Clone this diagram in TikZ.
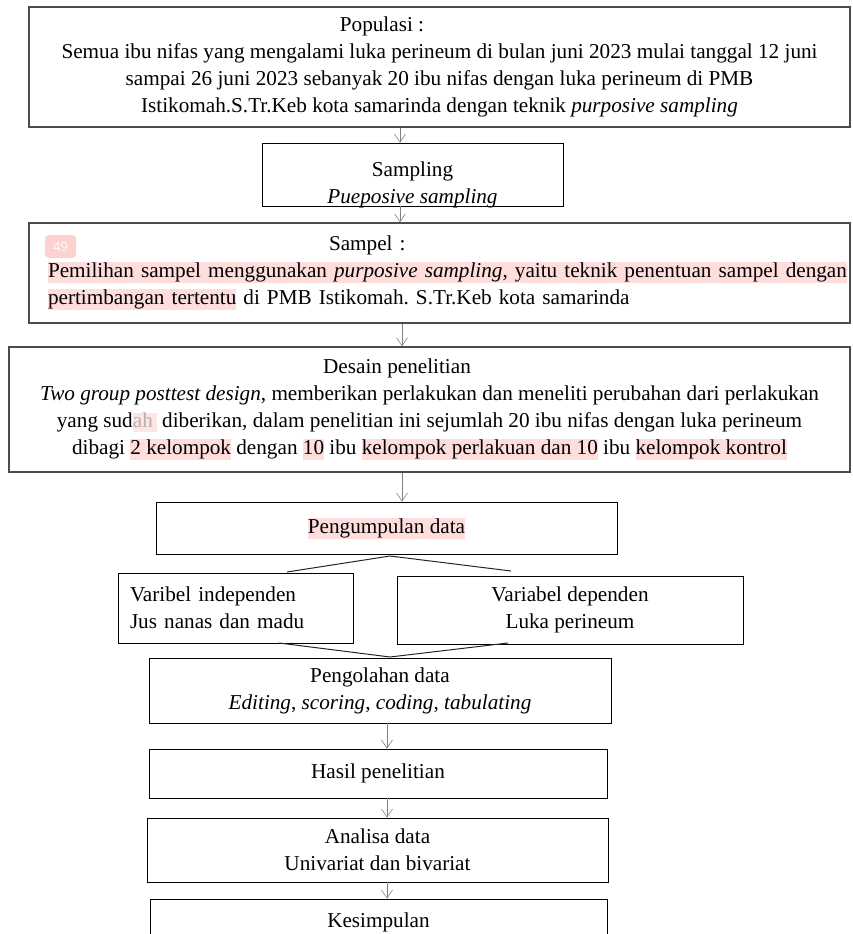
\documentclass[tikz,border=0pt]{standalone}
\usepackage{fontspec}
\setmainfont{Liberation Serif}
\newfontfamily\tagfont{Open Sans}
\usepackage{xcolor}
\usepackage{tikz}
\usetikzlibrary{arrows.meta,positioning,calc}

\definecolor{hlpink}{RGB}{255,221,221}
\definecolor{tagpink}{RGB}{255,208,208}
\newcommand{\bodyfont}{\fontsize{21.2}{27}\selectfont}
\newcommand{\hl}[1]{{\setlength{\fboxsep}{0pt}\colorbox{hlpink}{\vrule height 16pt depth 5pt width 0pt #1}}}
\newcommand{\faded}[1]{{\setlength{\fboxsep}{0pt}\colorbox{hlpink!80}{\vrule height 15pt depth 4pt width 0pt\textcolor{black!30}{#1}\kern4pt}}}
\frenchspacing

\begin{document}
\begin{tikzpicture}[
    x=1pt,
    y=1pt,
    box/.style={draw, line width=0.9pt, inner xsep=6pt, inner ysep=0pt, align=center, font=\bodyfont},
    bigbox/.style={box, draw=black!70, line width=1.5pt},
    tag/.style={fill=tagpink, rounded corners=4pt, text=white, font=\tagfont\fontsize{13}{13}\selectfont, minimum width=31pt, minimum height=23pt},
    arr/.style={draw=gray, line width=0.6pt, -{Straight Barb[length=8pt,width=11pt]}},
    link/.style={draw=black!85, line width=1pt}
]
\useasboundingbox (0,0) rectangle (853,-934);
\clip (0,0) rectangle (853,-934);

% Boxes
\node[bigbox, minimum width=821pt, minimum height=120pt] (pop) at (439.5,-67) {Populasi :\hspace*{115pt}\\
  Semua ibu nifas yang mengalami luka perineum di bulan juni 2023 mulai tanggal 12 juni\\
  sampai 26 juni 2023 sebanyak 20 ibu nifas dengan luka perineum di PMB\\
  Istikomah.S.Tr.Keb kota samarinda dengan teknik \textit{purposive sampling}};

\node[box, minimum width=301pt, minimum height=63pt, text height=58pt, text depth=0pt] (smp) at (412.5,-174.5) {Sampling\\ \textit{Pueposive sampling}};

\node[bigbox, align=left, inner xsep=19pt, text width=783pt, minimum width=821pt, minimum height=100pt] (spl) at (439.5,-273) {\hspace*{281pt}Sampel :\\
  \hl{Pemilihan sampel menggunakan \textit{purposive sampling}, yaitu teknik penentuan sampel dengan}\\
  \hl{pertimbangan tertentu} di PMB Istikomah. S.Tr.Keb kota samarinda};
\node[tag] (n49) at (60.5,-246.5) {49};

\node[bigbox, minimum width=841pt, minimum height=125pt] (dsn) at (429.5,-409.5) {Desain penelitian\hspace*{65pt}\\
  \textit{Two group posttest design}, memberikan perlakukan dan meneliti perubahan dari perlakukan\\
  yang sud\faded{ah} diberikan, dalam penelitian ini sejumlah 20 ibu nifas dengan luka perineum\\
  dibagi \hl{2 kelompok} dengan \hl{10} ibu \hl{kelompok perlakuan dan 10} ibu \hl{kelompok kontrol}};

\node[box, minimum width=461pt, minimum height=52pt] (kum) at (386.5,-528) {\hl{Pengumpulan data}};

\node[box, align=left, inner xsep=12pt, text width=211pt, minimum width=235pt, minimum height=70pt] (ind) at (235.5,-608) {Varibel independen\\ Jus nanas dan madu};
\node[box, minimum width=346pt, minimum height=68pt] (dep) at (570,-610) {Variabel dependen\\ Luka perineum};

\node[box, minimum width=462pt, minimum height=65pt] (olh) at (380,-690.5) {Pengolahan data\\ \textit{Editing}, \textit{scoring}, \textit{coding}, \textit{tabulating}};
\node[box, minimum width=458pt, minimum height=49pt] (hsl) at (378,-773.5) {Hasil penelitian};
\node[box, minimum width=461pt, minimum height=64pt] (ana) at (377.5,-850) {Analisa data\\ Univariat dan bivariat};
\node[box, minimum width=457pt, minimum height=46pt] (kes) at (378.5,-922) {Kesimpulan};

% Arrows
\coordinate (ax) at (400,0);
\coordinate (bx) at (402,0);
\coordinate (cx) at (387,0);
\draw[arr] (pop.south -| ax) -- (smp.north -| ax);
\draw[arr] (smp.south -| ax) -- (spl.north -| ax);
\draw[arr] (spl.south -| bx) -- (dsn.north -| bx);
\draw[arr] (dsn.south -| bx) -- (kum.north -| bx);

% Split and join
\coordinate (split) at (390,-556);
\coordinate (sl) at (287,-572);
\coordinate (sr) at (511,-571);
\draw[link] (sl) -- (split) -- (sr);
\coordinate (ml) at (279,-643);
\coordinate (mr) at (508,-643);
\coordinate (join) at (390,-657);
\draw[link] (ml) -- (join) -- (mr);

\draw[arr] (olh.south -| cx) -- (hsl.north -| cx);
\draw[arr] (hsl.south -| cx) -- (ana.north -| cx);
\draw[arr] (ana.south -| cx) -- (kes.north -| cx);
\end{tikzpicture}
\end{document}
